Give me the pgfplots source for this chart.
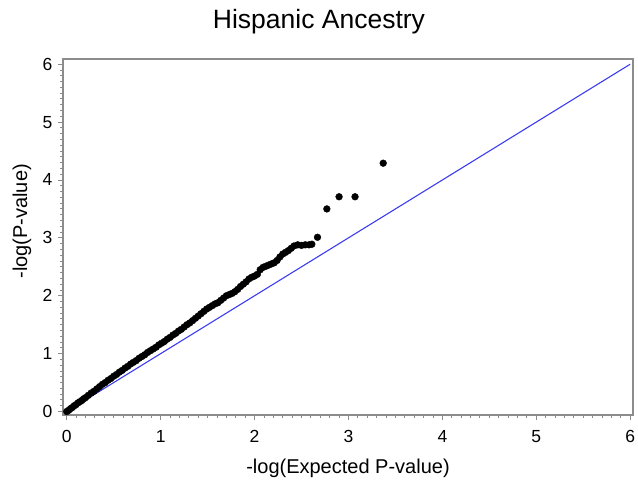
\documentclass[border=0pt]{standalone}
\usepackage{pgfplots}
\pgfplotsset{compat=1.18}
\usepackage{fontspec}
\setmainfont{Liberation Sans}
\definecolor{axisgray}{RGB}{140,140,140}
\definecolor{refblue}{RGB}{60,60,240}

\begin{document}
\begin{tikzpicture}
\useasboundingbox (-63pt,-72pt) rectangle (575pt,415pt);
\begin{axis}[
    at={(0pt,0pt)},
    anchor=south west,
    scale only axis,
    width=570pt,
    height=356pt,
    xmin=-0.04, xmax=6.03,
    ymin=-0.06, ymax=6.09,
    xtick={0,1,2,3,4,5,6},
    ytick={0,1,2,3,4,5,6},
    minor tick num=9,
    tick align=outside,
    xtick pos=left,
    ytick pos=left,
    major tick length=5pt,
    minor tick length=3pt,
    axis line style={axisgray, line width=1.1pt},
    every tick/.style={axisgray, line width=0.9pt},
    /pgf/number format/assume math mode=true,
    ticklabel style={font=\fontsize{17.5}{21}\selectfont},
    xticklabel style={yshift=-7pt},
    yticklabel style={xshift=-2pt},
    xlabel={-log(Expected P-value)},
    ylabel={-log(P-value)},
    label style={font=\fontsize{20}{24}\selectfont},
    xlabel style={at={(axis description cs:0.5,-0.149)}, anchor=center},
    ylabel style={at={(axis description cs:-0.072,0.544)}, anchor=center},
]
\addplot[refblue, line width=1.1pt] coordinates {(0,0) (6,6)};
\addplot[only marks, mark=*, mark size=3.4pt, black] coordinates {
(0.00,0.00) (0.02,0.02) (0.04,0.05) (0.06,0.07) (0.08,0.10) (0.10,0.12)
(0.12,0.15) (0.14,0.17) (0.16,0.19) (0.18,0.22) (0.20,0.24) (0.23,0.28)
(0.26,0.32) (0.29,0.35) (0.32,0.39) (0.35,0.43) (0.38,0.47) (0.41,0.50)
(0.44,0.54) (0.47,0.57) (0.50,0.61) (0.53,0.64) (0.56,0.68) (0.59,0.71)
(0.62,0.75) (0.65,0.78) (0.68,0.82) (0.71,0.85) (0.74,0.88) (0.77,0.92)
(0.80,0.95) (0.83,0.98) (0.86,1.02) (0.89,1.05) (0.92,1.08) (0.95,1.11)
(0.98,1.15) (1.01,1.18) (1.04,1.21) (1.07,1.25) (1.10,1.28) (1.13,1.32)
(1.16,1.35) (1.19,1.39) (1.22,1.42) (1.25,1.46) (1.28,1.50) (1.31,1.53)
(1.34,1.57) (1.37,1.61) (1.40,1.65) (1.43,1.69) (1.46,1.73) (1.49,1.77)
(1.52,1.80) (1.55,1.83) (1.58,1.86) (1.61,1.88) (1.64,1.92) (1.67,1.96)
(1.70,2.00) (1.73,2.02) (1.76,2.04) (1.79,2.07) (1.82,2.11) (1.85,2.16)
(1.88,2.20) (1.91,2.24) (1.94,2.29) (1.97,2.32) (2.00,2.34) (2.03,2.37)
(2.06,2.45) (2.09,2.49) (2.12,2.51) (2.15,2.53) (2.18,2.55) (2.21,2.57)
(2.24,2.61) (2.27,2.67) (2.30,2.72) (2.33,2.75) (2.36,2.78) (2.39,2.82)
(2.42,2.86) (2.46,2.88) (2.50,2.87) (2.54,2.88) (2.58,2.88) (2.61,2.89)
(2.67,3.01) (2.77,3.50) (2.90,3.71) (3.07,3.71) (3.37,4.29)
};
\end{axis}
\node[font=\fontsize{26.5}{32}\selectfont] at (256pt,393pt) {Hispanic Ancestry};
\end{tikzpicture}
\end{document}
